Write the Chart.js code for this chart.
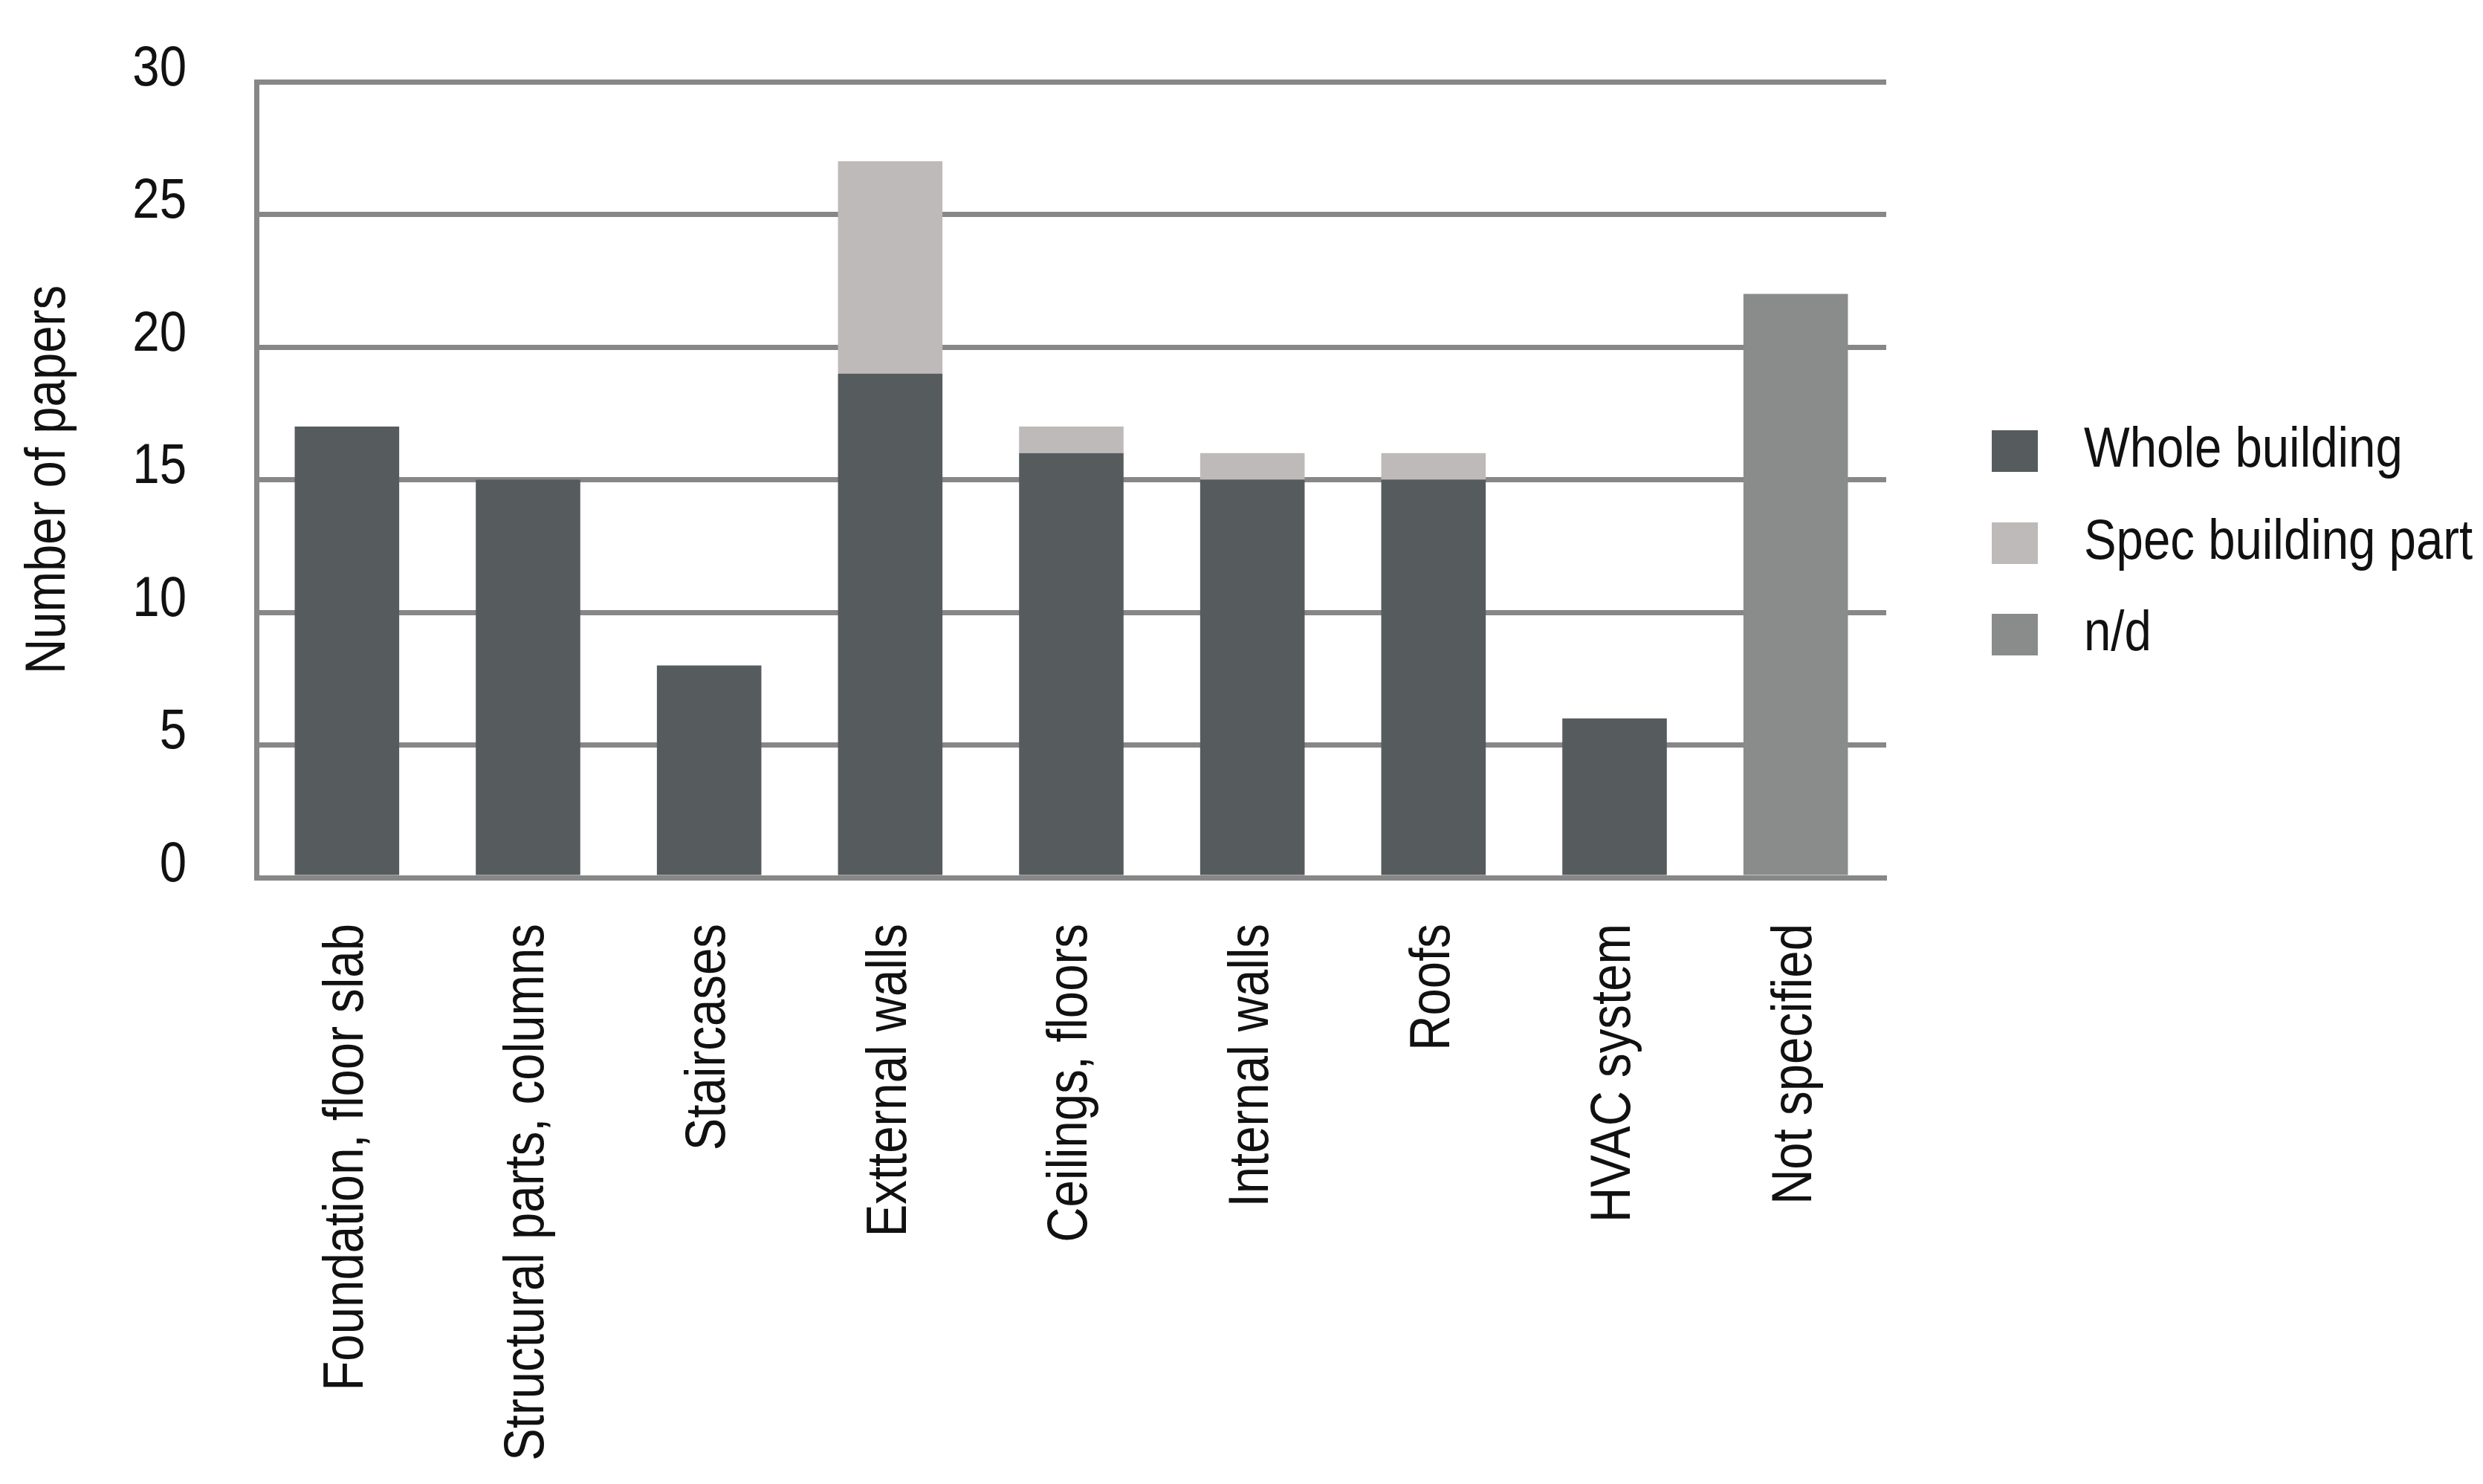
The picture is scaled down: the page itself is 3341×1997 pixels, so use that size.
<!DOCTYPE html>
<html>
<head>
<meta charset="utf-8">
<script src="https://cdn.jsdelivr.net/npm/chart.js@4.4.0/dist/chart.umd.min.js"></script>
<style>
  html, body { margin: 0; padding: 0; background: #ffffff; }
  #wrap { width: 3341px; height: 1997px; }
</style>
</head>
<body>
<div id="wrap"><canvas id="chart" width="3341" height="1997"></canvas></div>
<script>
const categories = [
    'Foundation, floor slab',
    'Structural parts, columns',
    'Staircases',
    'Exttternal walls'.replace('ttt', 'tt'),
    'Ceilings, floors',
    'Internal walls',
    'Roofs',
    'HVAC system',
    'Not specified'
];
const wholeBuilding = [17, 15, 8, 19, 16, 15, 15, 6, 0];
const specBuildingPart = [0, 0, 0, 8, 1, 1, 1, 0, 0];
const notDefined = [0, 0, 0, 0, 0, 0, 0, 0, 22];
const yTicks = [0, 5, 10, 15, 20, 25, 30];

const FONT = "'Liberation Sans', Arial, sans-serif";
const GRID = '#878787';
const SQUEEZE = 0.86; // no narrow font installed, so condense text by hand

const canvas = document.getElementById('chart');
const ctx = canvas.getContext('2d');

// squeeze every text run along its own baseline (works for rotated labels too)
const plainFillText = ctx.fillText.bind(ctx);
ctx.fillText = function (text, x, y) {
    this.save();
    this.translate(x, y);
    this.scale(SQUEEZE, 1);
    plainFillText(text, 0, 0);
    this.restore();
};

// legend drawn by hand so it sits where the original one does
const sideLegend = {
    id: 'sideLegend',
    afterDraw(chart) {
        const c = chart.ctx;
        const rows = [607, 731, 854];
        c.save();
        c.font = '76px ' + FONT;
        c.textBaseline = 'middle';
        c.textAlign = 'left';
        chart.data.datasets.forEach((ds, i) => {
            c.fillStyle = ds.backgroundColor;
            c.fillRect(2680, rows[i] - 28, 62, 56);
            c.fillStyle = '#111';
            c.fillText(ds.label, 2804, rows[i]);
        });
        c.restore();
    }
};

new Chart(ctx, {
    type: 'bar',
    data: {
        labels: categories,
        datasets: [
            { label: 'Whole building', data: wholeBuilding, backgroundColor: '#565b5e' },
            { label: 'Spec building part', data: specBuildingPart, backgroundColor: '#bebab9' },
            { label: 'n/d', data: notDefined, backgroundColor: '#8a8b8b' }
        ]
    },
    options: {
        responsive: false,
        animation: false,
        devicePixelRatio: 1,
        layout: { padding: { left: 0, right: 803, top: 110, bottom: 0 } },
        datasets: { bar: { barPercentage: 0.577, categoryPercentage: 1.0 } },
        plugins: {
            legend: { display: false },
            tooltip: { enabled: false }
        },
        scales: {
            x: {
                stacked: true,
                grid: { display: false, drawTicks: false },
                border: { display: true, color: GRID, width: 7 },
                ticks: {
                    autoSkip: false,
                    minRotation: 90,
                    maxRotation: 90,
                    padding: 62,
                    color: '#111',
                    font: { family: FONT, size: 76 }
                },
                afterFit(scale) {
                    scale.height = 1997 - 1181;
                    scale.paddingLeft = 0;
                    scale.paddingRight = 0;
                }
            },
            y: {
                stacked: true,
                min: 0,
                max: 30,
                afterBuildTicks(scale) { scale.ticks = yTicks.map(v => ({ value: v })); },
                grid: { color: GRID, lineWidth: 7, drawTicks: false },
                border: { display: true, color: GRID, width: 7 },
                ticks: {
                    padding: 94,
                    labelOffset: -16,
                    color: '#111',
                    font: { family: FONT, size: 76 }
                },
                title: {
                    display: true,
                    text: 'Number of papers',
                    color: '#111',
                    font: { family: FONT, size: 76 },
                    padding: { top: 20, bottom: 0 }
                },
                afterFit(scale) {
                    scale.width = 345;
                    scale.paddingTop = 0;
                    scale.paddingBottom = 0;
                }
            }
        }
    },
    plugins: [sideLegend]
});
</script>
</body>
</html>
